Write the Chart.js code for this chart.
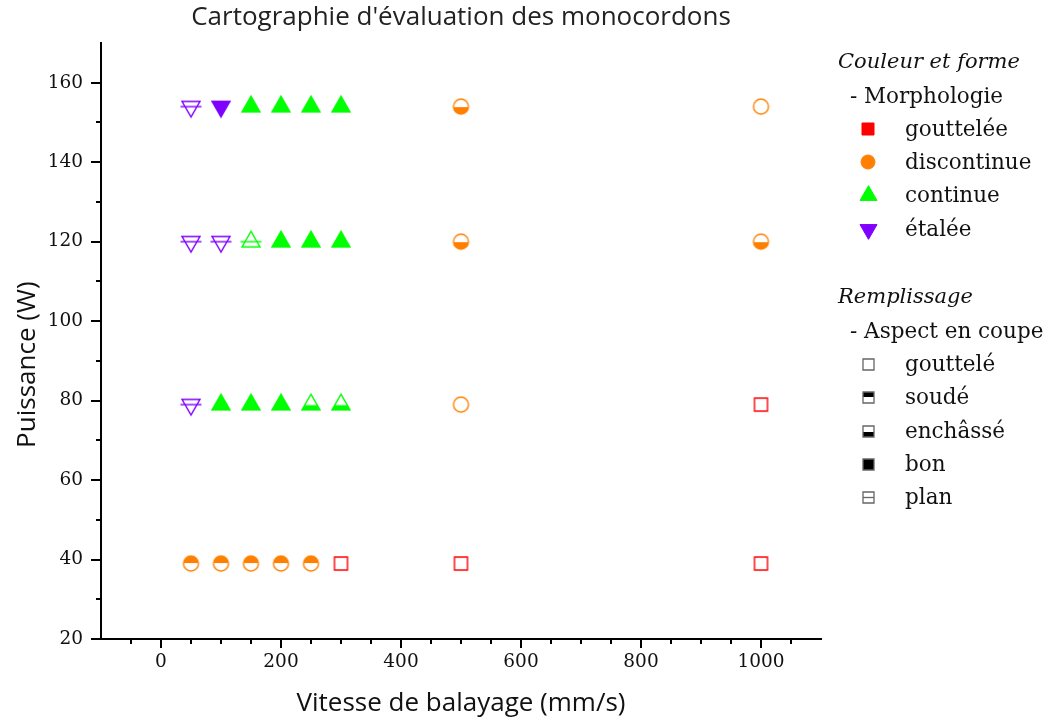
<!DOCTYPE html>
<html>
<head>
<meta charset="utf-8">
<title>Cartographie d'évaluation des monocordons</title>
<script src="https://cdn.jsdelivr.net/npm/chart.js@4.4.1/dist/chart.umd.min.js"></script>
<style>
  body { margin: 0; background: #fff; }
  #wrap { position: relative; width: 1048px; height: 722px; }
  #legend { position: absolute; left: 0; top: 0; width: 1048px; height: 722px; pointer-events: none;
            font-family: "DejaVu Serif", serif; font-size: 21.5px; color: #111; }
  .row { position: absolute; height: 30px; line-height: 30px; white-space: nowrap; }
  .head { font-style: italic; font-size: 21px; }
  .icon { position: absolute; }
</style>
</head>
<body>
<div id="wrap">
  <canvas id="chart" width="1048" height="722"></canvas>
  <div id="legend"></div>
</div>
<script>
/* =========================
   Cartographie des monocordons
========================= */

// -------------------------
// Data (x = vitesse mm/s, y = puissance W, fill = aspect en coupe)
// -------------------------
const gouttX = [300, 500, 1000, 1000];
const gouttY = [39, 39, 39, 79];
const gouttFill = ["gouttele", "gouttele", "gouttele", "gouttele"];

const discX = [50, 100, 150, 200, 250, 500, 500, 1000, 500, 1000];
const discY = [39, 39, 39, 39, 39, 79, 120, 120, 154, 154];
const discFill = ["soude", "soude", "soude", "soude", "soude", "gouttele", "enchasse", "enchasse", "enchasse", "gouttele"];

const contX = [100, 150, 200, 250, 300, 150, 200, 250, 300, 150, 200, 250, 300];
const contY = [79, 79, 79, 79, 79, 120, 120, 120, 120, 154, 154, 154, 154];
const contFill = ["bon", "bon", "bon", "enchasse", "enchasse", "plan", "bon", "bon", "bon", "bon", "bon", "bon", "bon"];

const etalX = [50, 50, 100, 50, 100];
const etalY = [79, 120, 120, 154, 154];
const etalFill = ["plan", "plan", "plan", "plan", "bon"];

const morphLabels = ["gouttelée", "discontinue", "continue", "étalée"];
const aspectLabels = ["gouttelé", "soudé", "enchâssé", "bon", "plan"];
const aspectKeys = ["gouttele", "soude", "enchasse", "bon", "plan"];

const xTickLabels = [0, 200, 400, 600, 800, 1000];
const yTickLabels = [20, 40, 60, 80, 100, 120, 140, 160];

// -------------------------
// Marker drawing
// -------------------------
function markerCanvas(shape, stroke, color, mode, size, lw) {
  const pad = 4;
  const dim = Math.ceil(size + pad * 2);
  const cv = document.createElement("canvas");
  cv.width = dim;
  cv.height = dim;
  const ctx = cv.getContext("2d");
  const c = dim / 2;
  const r = size / 2;

  const path = () => {
    ctx.beginPath();
    if (shape === "square") ctx.rect(c - r, c - r, size, size);
    else if (shape === "circle") ctx.arc(c, c, r, 0, Math.PI * 2);
    else {
      const h = size * 0.87;
      const d = shape === "up" ? 1 : -1;
      ctx.moveTo(c, c - d * h * 2 / 3);
      ctx.lineTo(c + r, c + d * h / 3);
      ctx.lineTo(c - r, c + d * h / 3);
      ctx.closePath();
    }
  };

  path();
  ctx.fillStyle = mode === "bon" ? color : "#fff";
  ctx.fill();

  if (mode === "soude" || mode === "enchasse") {
    ctx.save();
    ctx.beginPath();
    if (mode === "soude") ctx.rect(0, 0, dim, c - 0.5);
    else ctx.rect(0, c + 0.5, dim, dim);
    ctx.clip();
    path();
    ctx.fillStyle = color;
    ctx.fill();
    ctx.restore();
  }

  path();
  ctx.strokeStyle = stroke;
  ctx.lineWidth = lw;
  ctx.stroke();

  if (mode === "plan") {
    const ext = shape === "up" || shape === "down" ? 1.5 : 0;
    ctx.beginPath();
    ctx.moveTo(c - r - ext, c);
    ctx.lineTo(c + r + ext, c);
    ctx.stroke();
  }
  return cv;
}

const RED = "#ff0000";
const ORANGE = "#ff8000";
const GREEN = "#00ff00";
const PURPLE = "#8000ff";

const styles = (shape, color, fills, size) =>
  fills.map(f => markerCanvas(shape, color, color, f, size, 1.4));

// -------------------------
// Ticks (major + minor, drawn outside)
// -------------------------
const axisTicks = {
  id: "axisTicks",
  afterDraw(chart) {
    const { ctx, chartArea } = chart;
    const xs = chart.scales.x;
    const ys = chart.scales.y;
    ctx.save();
    ctx.strokeStyle = "#000";
    ctx.lineWidth = 2;
    for (let v = -50; v <= 1050; v += 50) {
      const px = Math.round(xs.getPixelForValue(v));
      const len = v % 200 === 0 ? 9 : 5;
      ctx.beginPath();
      ctx.moveTo(px, chartArea.bottom);
      ctx.lineTo(px, chartArea.bottom + len);
      ctx.stroke();
    }
    for (let v = 20; v <= 160; v += 10) {
      const py = Math.round(ys.getPixelForValue(v));
      const len = v % 20 === 0 ? 10 : 5;
      ctx.beginPath();
      ctx.moveTo(chartArea.left, py);
      ctx.lineTo(chartArea.left - len, py);
      ctx.stroke();
    }
    ctx.restore();
  }
};

// -------------------------
// Chart
// -------------------------
const tickFont = { family: "DejaVu Serif", size: 18.5 };
const axisTitleFont = { family: "'Open Sans', sans-serif", size: 26 };
// trailing spaces push the rotated y title down, as in the original layout
const yTitle = "Puissance (W)" + "\u00a0".repeat(7);

new Chart(document.getElementById("chart"), {
  type: "scatter",
  data: {
    datasets: [
      { label: morphLabels[0], data: gouttX.map((x, i) => ({ x, y: gouttY[i] })), pointStyle: styles("square", RED, gouttFill, 13) },
      { label: morphLabels[1], data: discX.map((x, i) => ({ x, y: discY[i] })), pointStyle: styles("circle", ORANGE, discFill, 15) },
      { label: morphLabels[2], data: contX.map((x, i) => ({ x, y: contY[i] })), pointStyle: styles("up", GREEN, contFill, 18) },
      { label: morphLabels[3], data: etalX.map((x, i) => ({ x, y: etalY[i] })), pointStyle: styles("down", PURPLE, etalFill, 18) }
    ]
  },
  options: {
    responsive: false,
    animation: false,
    events: [],
    layout: { padding: { left: 0, right: 227, top: 0, bottom: 0 } },
    plugins: {
      legend: { display: false },
      tooltip: { enabled: false },
      title: {
        display: true,
        fullSize: false,
        text: "Cartographie d'évaluation des monocordons",
        color: "#222",
        font: { family: "Open Sans", size: 26, weight: "normal" },
        padding: { top: 2, bottom: 9.8 }
      }
    },
    scales: {
      x: {
        type: "linear",
        min: -100,
        max: 1100,
        afterFit: s => { s.height = 83; },
        border: { display: true, color: "#000", width: 2 },
        grid: { drawOnChartArea: false, drawTicks: true, tickLength: 9, tickColor: "rgba(0,0,0,0)" },
        ticks: {
          stepSize: 50,
          autoSkip: false,
          maxRotation: 0,
          padding: 3,
          color: "#111",
          font: tickFont,
          callback: v => (xTickLabels.includes(v) ? String(v) : "")
        },
        title: { display: true, text: "Vitesse de balayage (mm/s)", color: "#111", font: axisTitleFont, padding: { top: 0, bottom: 2.4 } }
      },
      y: {
        type: "linear",
        min: 20,
        max: 170,
        afterFit: s => { s.width = 101; },
        border: { display: true, color: "#000", width: 2 },
        grid: { drawOnChartArea: false, drawTicks: true, tickLength: 10, tickColor: "rgba(0,0,0,0)" },
        ticks: {
          stepSize: 10,
          autoSkip: false,
          padding: 8,
          color: "#111",
          font: tickFont,
          callback: v => (yTickLabels.includes(v) ? String(v) : "")
        },
        title: { display: true, text: yTitle, color: "#111", font: axisTitleFont, padding: { top: 12.4, bottom: 0 } }
      }
    }
  },
  plugins: [axisTicks]
});

// -------------------------
// Legend (HTML)
// -------------------------
const legend = document.getElementById("legend");

function addRow(text, x, cy, cls) {
  const row = document.createElement("div");
  row.className = "row" + (cls ? " " + cls : "");
  row.style.left = x + "px";
  row.style.top = (cy - 15) + "px";
  row.textContent = text;
  legend.appendChild(row);
}

function addIcon(cv, cx, cy) {
  cv.className = "icon";
  cv.style.left = (cx - cv.width / 2) + "px";
  cv.style.top = (cy - cv.height / 2) + "px";
  legend.appendChild(cv);
}

addRow("Couleur et forme", 838, 61, "head");
addRow("- Morphologie", 850, 96);
const morphIcons = [
  markerCanvas("square", RED, RED, "bon", 12, 1),
  markerCanvas("circle", ORANGE, ORANGE, "bon", 14, 1),
  markerCanvas("up", GREEN, GREEN, "bon", 17, 1),
  markerCanvas("down", PURPLE, PURPLE, "bon", 17, 1)
];
const morphY = [129, 162, 195, 229];
morphLabels.forEach((lab, i) => {
  addIcon(morphIcons[i], 868, morphY[i]);
  addRow(lab, 905, morphY[i]);
});

addRow("Remplissage", 838, 296, "head");
addRow("- Aspect en coupe", 850, 331);
const aspectY = [364, 397, 431, 464, 497];
aspectLabels.forEach((lab, i) => {
  addIcon(markerCanvas("square", "#666", "#000", aspectKeys[i], 11, 1.3), 868, aspectY[i]);
  addRow(lab, 905, aspectY[i]);
});
</script>
</body>
</html>
